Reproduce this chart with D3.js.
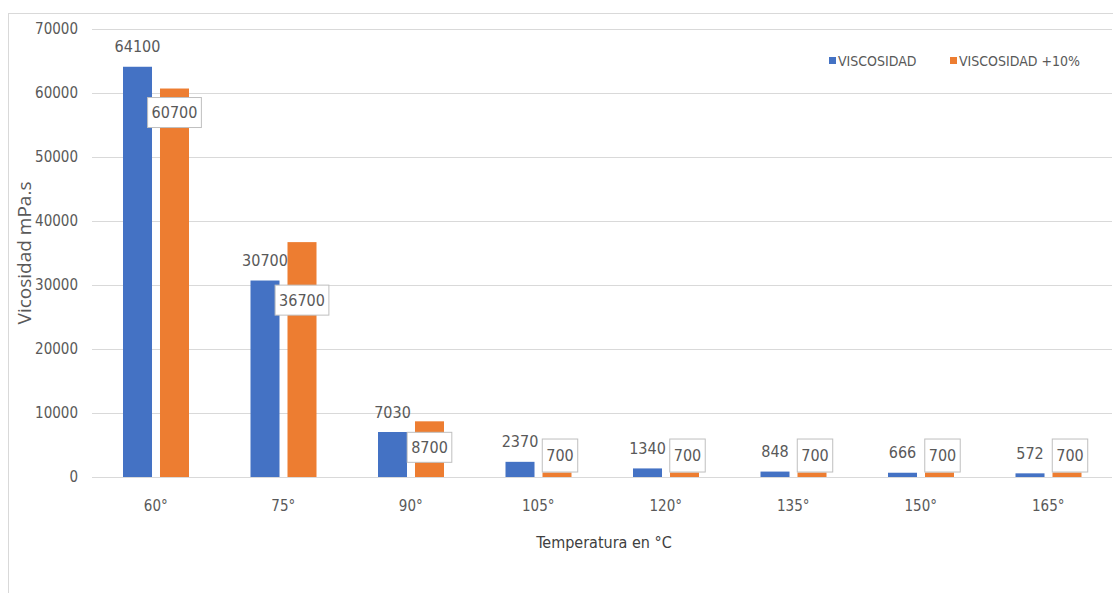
<!DOCTYPE html>
<html>
<head>
<meta charset="utf-8">
<script src="https://cdn.jsdelivr.net/npm/d3@7"></script>
<style>
  html, body { margin: 0; padding: 0; background: #fff; }
  svg { display: block; }
  .narrow { font-family: "Liberation Sans Narrow", "DejaVu Sans Condensed", "Liberation Sans", sans-serif; }
</style>
</head>
<body>
<svg id="chart" width="1113" height="593"></svg>
<script>
// Viscosity readings per temperature step
const temperatures = ["60°", "75°", "90°", "105°", "120°", "135°", "150°", "165°"];
const viscosidad = [64100, 30700, 7030, 2370, 1340, 848, 666, 572];
const viscosidadMas10 = [60700, 36700, 8700, 700, 700, 700, 700, 700];
const seriesNames = ["VISCOSIDAD", "VISCOSIDAD +10%"];
const yTicks = [0, 10000, 20000, 30000, 40000, 50000, 60000, 70000];

// Callout boxes for the second series sit at a hand-tuned shift from the bar top (px)
const calloutShift = [24, 58, 26, -17, -17, -17, -17, -17];

const W = 1113, H = 593;
const margin = { left: 92, right: 1, top: 29, bottom: 116 };
const colors = { [seriesNames[0]]: "#4472C4", [seriesNames[1]]: "#ED7D31" };
const textGray = "#595959";

const svg = d3.select("#chart");
svg.append("rect").attr("width", W).attr("height", H).attr("fill", "#fff");

// chart area frame
svg.append("rect")
  .attr("x", 8.5).attr("y", 13.5)
  .attr("width", W + 10).attr("height", H + 10)
  .attr("fill", "none").attr("stroke", "#d9d9d9").attr("stroke-width", 1);

const y = d3.scaleLinear().domain([0, 70000]).range([477, 29]);
const x0 = d3.scaleBand().domain(temperatures).range([margin.left, W - margin.right]).padding(0);
const x1 = d3.scaleBand().domain(seriesNames).range([31, 97]).paddingInner(0.216).paddingOuter(0);

// horizontal gridlines
svg.append("g")
  .selectAll("line")
  .data(yTicks)
  .join("line")
  .attr("x1", margin.left).attr("x2", W - margin.right)
  .attr("y1", d => Math.round(y(d)) + 0.5).attr("y2", d => Math.round(y(d)) + 0.5)
  .attr("stroke", "#d9d9d9").attr("stroke-width", 1);

// y axis tick labels
const yAxis = d3.axisLeft(y).tickValues(yTicks).tickSize(0).tickPadding(0).tickFormat(d3.format("d"));
const gy = svg.append("g").attr("transform", "translate(78,0)").call(yAxis);
gy.select(".domain").remove();
gy.selectAll("text").attr("class", "narrow").attr("fill", textGray).attr("font-size", 15);

// x axis tick labels
const xAxis = d3.axisBottom(x0).tickSize(0).tickPadding(0);
const gx = svg.append("g").attr("transform", "translate(0,500)").call(xAxis);
gx.select(".domain").remove();
gx.selectAll("text").attr("class", "narrow").attr("fill", textGray).attr("font-size", 15);

// bars
const rows = temperatures.map((t, i) => ({
  t, i,
  vals: [
    { key: seriesNames[0], v: viscosidad[i] },
    { key: seriesNames[1], v: viscosidadMas10[i] }
  ]
}));

const groups = svg.append("g").selectAll("g")
  .data(rows).join("g")
  .attr("transform", d => `translate(${x0(d.t)},0)`);

groups.selectAll("rect")
  .data(d => d.vals)
  .join("rect")
  .attr("x", d => x1(d.key))
  .attr("width", x1.bandwidth())
  .attr("y", d => y(d.v))
  .attr("height", d => y(0) - y(d.v))
  .attr("fill", d => colors[d.key]);

// labels for the first series, above each bar
groups.append("text")
  .attr("class", "narrow")
  .attr("x", x1(seriesNames[0]) + x1.bandwidth() / 2)
  .attr("y", d => y(viscosidad[d.i]) - 20)
  .attr("dy", "0.35em")
  .attr("text-anchor", "middle")
  .attr("font-size", 16)
  .attr("fill", textGray)
  .text(d => viscosidad[d.i]);

// callout labels for the second series
const callouts = groups.append("g")
  .attr("transform", d => {
    const cx = x1(seriesNames[1]) + x1.bandwidth() / 2 + (d.i > 2 ? 3 : 0);
    const cy = y(viscosidadMas10[d.i]) + calloutShift[d.i];
    return `translate(${cx},${cy})`;
  });

callouts.append("text")
  .attr("class", "narrow")
  .attr("text-anchor", "middle")
  .attr("dy", "0.35em")
  .attr("font-size", 16)
  .attr("fill", textGray)
  .text(d => viscosidadMas10[d.i]);

callouts.each(function(d) {
  const g = d3.select(this);
  const bb = g.select("text").node().getBBox();
  const w = Math.max(bb.width + 8, 34), h = d.i > 2 ? 33 : 30;
  g.insert("rect", "text")
    .attr("x", -w / 2).attr("y", -h / 2)
    .attr("width", w).attr("height", h)
    .attr("fill", "#fff").attr("stroke", "#bfbfbf").attr("stroke-width", 1);
});

// axis titles
svg.append("text")
  .attr("transform", "translate(24,253) rotate(-90)")
  .attr("text-anchor", "middle")
  .attr("dy", "0.35em")
  .attr("font-family", "'Open Sans', 'Liberation Sans', sans-serif")
  .attr("font-size", 19)
  .attr("fill", textGray)
  .text("Vicosidad mPa.s");

svg.append("text")
  .attr("class", "narrow")
  .attr("x", 604).attr("y", 542)
  .attr("dy", "0.35em")
  .attr("text-anchor", "middle")
  .attr("font-size", 16)
  .attr("fill", "#404040")
  .text("Temperatura en °C");

// legend
const legendX = [829, 950];
const legend = svg.append("g").selectAll("g")
  .data(seriesNames).join("g")
  .attr("transform", (d, i) => `translate(${legendX[i]},61)`);
legend.append("rect")
  .attr("x", 0).attr("y", -4).attr("width", 7).attr("height", 7)
  .attr("fill", d => colors[d]);
legend.append("text")
  .attr("class", "narrow")
  .attr("x", 9).attr("dy", "0.35em")
  .attr("font-size", 14)
  .attr("fill", textGray)
  .text(d => d);
</script>
</body>
</html>
